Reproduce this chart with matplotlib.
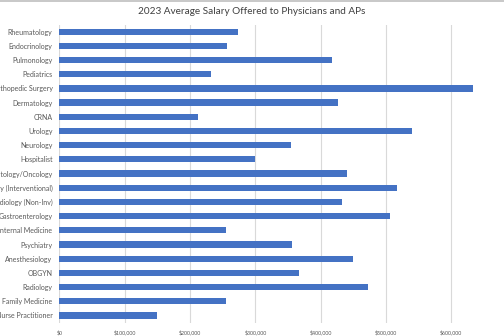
import matplotlib.pyplot as plt
from matplotlib.lines import Line2D
from matplotlib.ticker import FuncFormatter

plt.rcParams['font.family'] = ['Lato', 'DejaVu Sans']

# Specialties, listed top to bottom
specialties = [
    'Rheumatology', 'Endocrinology', 'Pulmonology', 'Pediatrics',
    'Orthopedic Surgery', 'Dermatology', 'CRNA', 'Urology', 'Neurology',
    'Hospitalist', 'Hematology/Oncology', 'Cardiology (Interventional)',
    'Cardiology (Non-Inv)', 'Gastroenterology', 'Internal Medicine',
    'Psychiatry', 'Anesthesiology', 'OBGYN', 'Radiology',
    'Family Medicine', 'Nurse Practitioner',
]

# Average salary offered (USD)
salaries = [
    273000, 256000, 418000, 232000,
    633000, 427000, 212000, 540000, 354000,
    299000, 440000, 517000,
    433000, 506000, 255000,
    356000, 450000, 367000, 472000,
    255000, 150000,
]

x_ticks = [0, 100000, 200000, 300000, 400000, 500000, 600000]

fig = plt.figure(figsize=(5.04, 3.36), dpi=100)
ax = fig.add_axes([0.118, 0.040, 0.907, 0.887])

ypos = list(range(len(specialties)))
ax.barh(ypos, salaries, height=0.44, color='#4472C4', zorder=3)

ax.set_ylim(len(specialties) - 0.5, -0.5)
ax.set_yticks(ypos)
ax.set_yticklabels(specialties, fontsize=5.0, color='#595959')

# axis runs to $700k; the last gridline sits past the right edge
ax.set_xlim(0, 700000)
ax.set_xticks(x_ticks)
ax.xaxis.set_major_formatter(FuncFormatter(lambda v, p: '${:,.0f}'.format(v)))
ax.tick_params(axis='x', labelsize=3.8, labelcolor='#595959', length=0, pad=5)
ax.tick_params(axis='y', length=0, pad=5)

ax.grid(axis='x', color='#D9D9D9', linewidth=0.8, zorder=0)
for side in ['top', 'right', 'bottom', 'left']:
    ax.spines[side].set_visible(False)

fig.text(0.5, 0.965, '2023 Average Salary Offered to Physicians and APs',
         ha='center', va='center', fontsize=7.2, color='#404040')

# chart border along the top edge
fig.add_artist(Line2D([0, 1], [0.997, 0.997], color='#BFBFBF', linewidth=1.2))

fig.savefig('out.png', dpi=100)
